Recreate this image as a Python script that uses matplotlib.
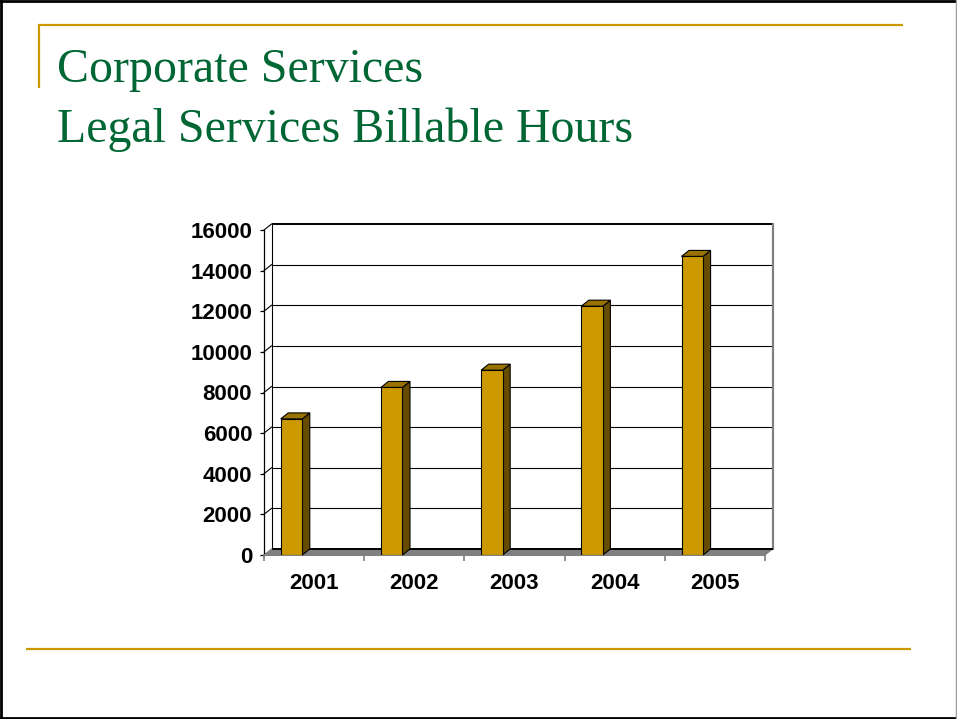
import matplotlib
matplotlib.use("Agg")
import matplotlib.pyplot as plt
from matplotlib.patches import Polygon, Rectangle
from matplotlib.lines import Line2D

# ---- data ----
years = ["2001", "2002", "2003", "2004", "2005"]
hours = [6700, 8250, 9100, 12250, 14700]
y_ticks = [0, 2000, 4000, 6000, 8000, 10000, 12000, 14000, 16000]
title_lines = ["Corporate Services", "Legal Services Billable Hours"]

# ---- styling ----
W, H, DPI = 957, 719, 100
GOLD = "#CC9900"
GREEN = "#006633"
BAR_FRONT = "#CC9900"
BAR_TOP = "#997300"
BAR_SIDE = "#664C00"
FLOOR = "#808080"

fig = plt.figure(figsize=(W / DPI, H / DPI), dpi=DPI)
fig.patch.set_facecolor("white")


def fx(px):
    return px / W


def fy(py):
    return 1 - py / H


# slide frame
for (x0, y0, x1, y1, c, lw) in [
    (0.5, 0.5, 0.5, 718.5, "black", 2.0),
    (0, 1.0, 957, 1.0, "black", 2.0),
    (0, 717.5, 957, 717.5, "black", 2.0),
    (956.3, 0, 956.3, 719, "#9a9a9a", 1.0),
]:
    fig.add_artist(Line2D([fx(x0), fx(x1)], [fy(y0), fy(y1)],
                          transform=fig.transFigure, color=c, lw=lw))

# gold rules of the slide layout
fig.add_artist(Line2D([fx(38), fx(903)], [fy(24.5), fy(24.5)],
                      transform=fig.transFigure, color=GOLD, lw=1.6,
                      solid_capstyle="butt"))
fig.add_artist(Line2D([fx(38.5), fx(38.5)], [fy(24), fy(88)],
                      transform=fig.transFigure, color=GOLD, lw=1.6,
                      solid_capstyle="butt"))
fig.add_artist(Line2D([fx(26), fx(911)], [fy(648.5), fy(648.5)],
                      transform=fig.transFigure, color=GOLD, lw=1.6,
                      solid_capstyle="butt"))

# title
for i, line in enumerate(title_lines):
    fig.text(fx(57), fy(82 + 60 * i), line, fontfamily="Liberation Serif",
             fontsize=34.5, color=GREEN, va="baseline", ha="left")

# ---- chart: front plane of the 3D box ----
ax_left, ax_right, ax_top, ax_bottom = 264, 765, 230, 555
ax = fig.add_axes([fx(ax_left), fy(ax_bottom), (ax_right - ax_left) / W,
                   (ax_bottom - ax_top) / H])
n = len(years)
ax.set_xlim(-0.5, n - 0.5)
ax.set_ylim(y_ticks[0], y_ticks[-1])
ax.patch.set_visible(False)

# depth offset of the 3D box (in data units)
depth_px_x, depth_px_y = 7.5, 6.0
ddx = depth_px_x / ((ax_right - ax_left) / n)
ddy = depth_px_y / ((ax_bottom - ax_top) / (y_ticks[-1] - y_ticks[0]))
x_lo, x_hi = -0.5, n - 0.5
ymax = y_ticks[-1]

# back wall
ax.add_patch(Rectangle((x_lo + ddx, ddy), x_hi - x_lo, ymax, facecolor="white",
                       edgecolor="none", zorder=0, clip_on=False))
# gridlines on back wall and left wall
for v in y_ticks[1:]:
    lw = 1.4 if v == ymax else 0.8
    ax.plot([x_lo + ddx, x_hi + ddx], [v + ddy, v + ddy], color="black",
            lw=lw, zorder=1, clip_on=False, solid_capstyle="butt")
    ax.plot([x_lo, x_lo + ddx], [v, v + ddy], color="black", lw=0.8,
            zorder=1, clip_on=False)
# left wall back edge
ax.plot([x_lo + ddx, x_lo + ddx], [ddy, ymax + ddy], color="black", lw=0.8,
        zorder=1, clip_on=False)
# right edge of back wall
ax.plot([x_hi + ddx, x_hi + ddx], [ddy, ymax + ddy], color=FLOOR, lw=1.6,
        zorder=1, clip_on=False)

# floor
ax.add_patch(Polygon([(x_lo, 0), (x_hi, 0), (x_hi + ddx, ddy), (x_lo + ddx, ddy)],
                     closed=True, facecolor=FLOOR, edgecolor=FLOOR, lw=0.8,
                     zorder=2, clip_on=False))
ax.plot([x_lo + ddx, x_hi + ddx], [ddy, ddy], color="black", lw=1.4,
        zorder=2, clip_on=False, solid_capstyle="butt")

# bars
bar_w = 0.215
bar_off = -0.333
xs = [i + bar_off for i in range(n)]
ax.bar(xs, hours, width=bar_w, align="edge", color=BAR_FRONT,
       edgecolor="black", lw=0.8, zorder=5)
for x0, v in zip(xs, hours):
    x1 = x0 + bar_w
    ax.add_patch(Polygon([(x1, 0), (x1 + ddx, ddy), (x1 + ddx, v + ddy), (x1, v)],
                         closed=True, facecolor=BAR_SIDE, edgecolor="black",
                         lw=0.8, zorder=4, clip_on=False))
    ax.add_patch(Polygon([(x0, v), (x1, v), (x1 + ddx, v + ddy), (x0 + ddx, v + ddy)],
                         closed=True, facecolor=BAR_TOP, edgecolor="black",
                         lw=0.8, zorder=4, clip_on=False))

# spines
for s in ("top", "right"):
    ax.spines[s].set_visible(False)
ax.spines["left"].set_color("black")
ax.spines["left"].set_linewidth(0.9)
ax.spines["bottom"].set_color(FLOOR)
ax.spines["bottom"].set_linewidth(1.4)

tick_font = dict(family="Liberation Sans", weight="bold", size=16)

# value axis
ax.set_yticks(y_ticks)
ax.set_yticklabels([str(v) for v in y_ticks], fontdict=tick_font)
ax.tick_params(axis="y", direction="out", length=3, width=0.9, color="black",
               pad=5.5)

# category axis: ticks between categories, labels at centres
ax.set_xticks([i - 0.5 for i in range(n + 1)])
ax.set_xticklabels([])
ax.set_xticks(range(n), minor=True)
ax.set_xticklabels(years, minor=True, fontdict=tick_font)
ax.tick_params(axis="x", which="major", direction="out", length=4.5,
               width=1.2, color=FLOOR)
ax.tick_params(axis="x", which="minor", length=0, pad=13)

fig.savefig("out.png", dpi=DPI, facecolor="white")
